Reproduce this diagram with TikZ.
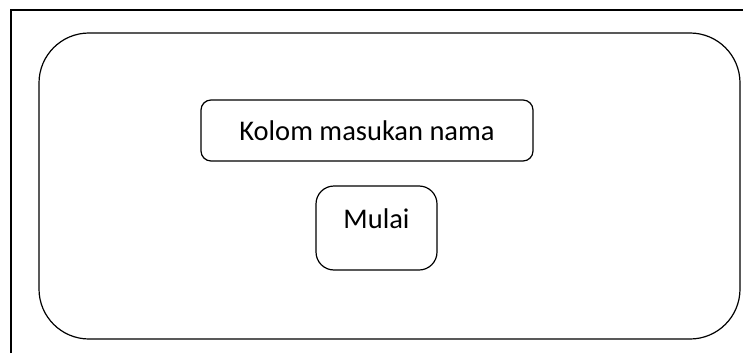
\documentclass[tikz,border=0pt]{standalone}
\usepackage{fontspec}
\setmainfont{Carlito}
\begin{document}
\begin{tikzpicture}[x=1pt,y=1pt,
  box/.style={draw,line width=1.2pt,rounded corners=10pt,font=\fontsize{28.5}{32}\selectfont},
  btn/.style={box,rounded corners=18pt,text height=16pt,text depth=16pt}]
\useasboundingbox (0,0) rectangle (743,-353);
% frame
\draw[line width=1.4pt] (11,-353) -- (11,-10) -- (743,-10);
% screen
\node[draw,line width=1.2pt,rounded corners=50pt,minimum width=701pt,minimum height=306pt] (screen) at (389.5,-186) {};
% widgets
\node[box,minimum width=332pt,minimum height=61pt] (nama) at (367,-130.5) {Kolom masukan nama};
\node[btn,minimum width=121pt,minimum height=84pt] (mulai) at (376.5,-228) {Mulai};
\end{tikzpicture}
\end{document}
